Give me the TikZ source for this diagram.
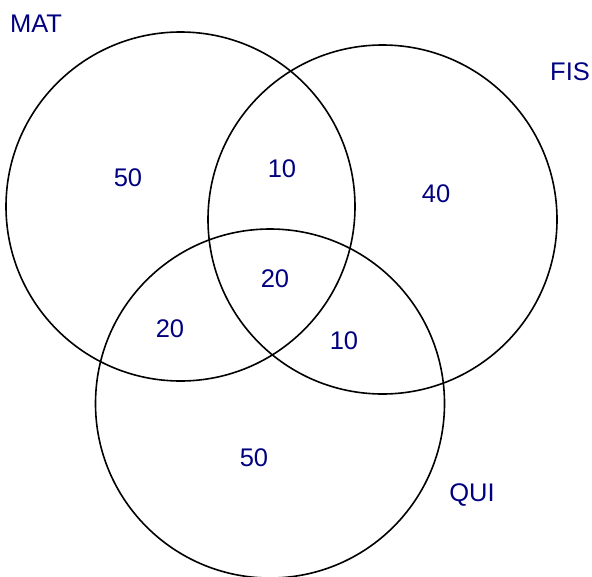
\documentclass[tikz,border=0pt]{standalone}
\usepackage{fontspec}
\setmainfont{Liberation Sans}
\usetikzlibrary{positioning}
\definecolor{navy}{RGB}{0,0,128}

\begin{document}
\begin{tikzpicture}[x=1pt, y=-1pt, font=\fontsize{25.5}{30}\selectfont,
  set/.style={draw, line width=1.6pt, circle, minimum size=349pt, inner sep=0pt},
  lbl/.style={text=navy, inner sep=0pt, text height=18pt, text depth=0pt}]
\useasboundingbox (0,0) rectangle (592,576);
% the three sets
\node[set] (mat) at (180.5,206.5) {};
\node[set] (fis) at (382.5,219.5) {};
\node[set] (qui) at (270,403.5) {};
% set names
\node[lbl] (matname) at (36,23.5) {MAT};
\node[lbl] (fisname) at (570,71.5) {FIS};
\node[lbl] (quiname) at (472,492) {QUI};
% counts
\node[lbl] (onlymat) at (128,177) {50};
\node[lbl] (matfis) at (282,168) {10};
\node[lbl] (onlyfis) at (436,193) {40};
\node[lbl] (all) at (275,278) {20};
\node[lbl] (matqui) at (170,328) {20};
\node[lbl] (fisqui) at (344,340) {10};
\node[lbl] (onlyqui) at (254,457) {50};
\end{tikzpicture}
\end{document}
